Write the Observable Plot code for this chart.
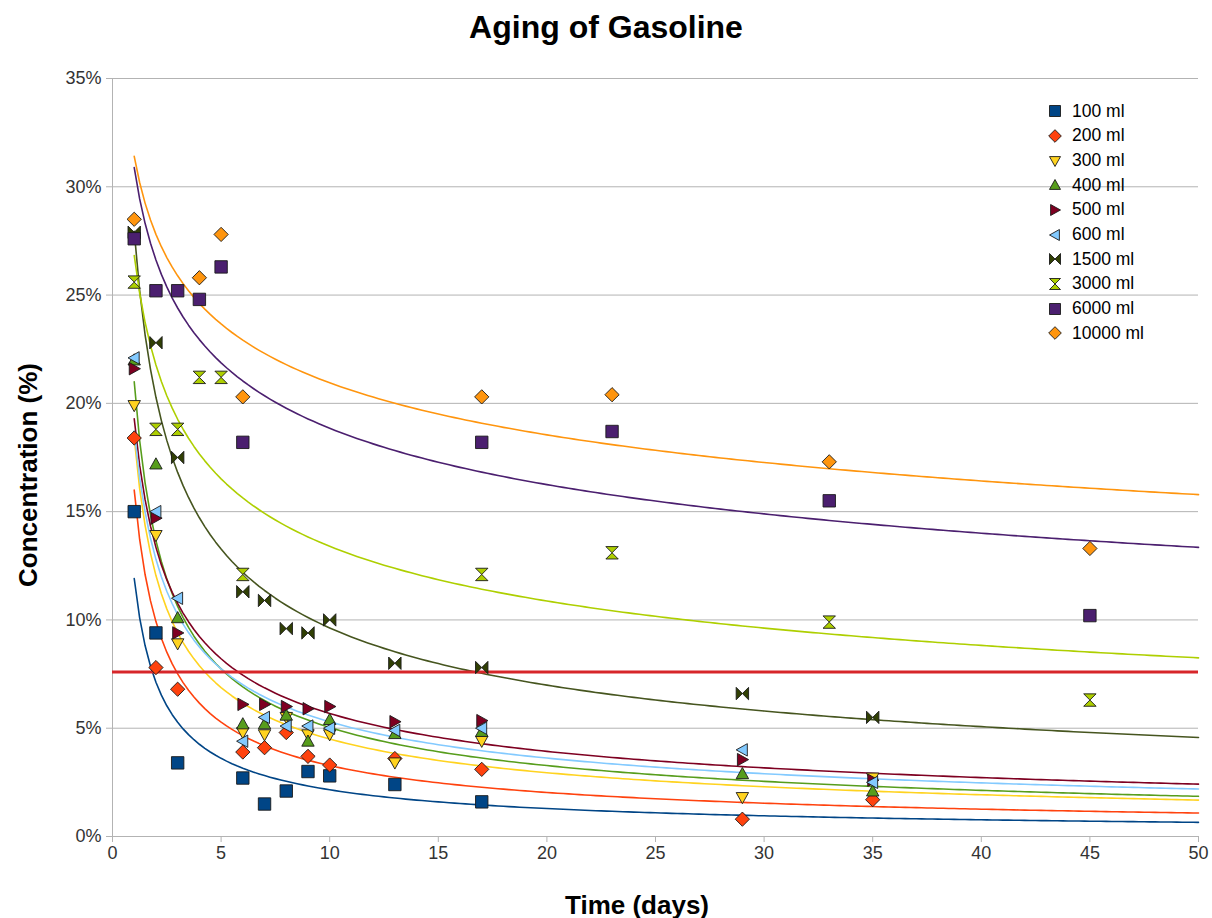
<!DOCTYPE html>
<html>
<head>
<meta charset="utf-8">
<script src="https://cdn.jsdelivr.net/npm/d3@7"></script>
<script src="https://cdn.jsdelivr.net/npm/@observablehq/plot@0.6"></script>
<style>
  html, body { margin: 0; padding: 0; background: #fff; }
  #wrap { position: relative; width: 1212px; height: 918px; background: #fff; font-family: "Liberation Sans", Arial, sans-serif; overflow: hidden; }
  #title { position: absolute; top: 9px; left: 0; width: 1212px; text-align: center; font-weight: bold; font-size: 32px; color: #000; }
  #chart { position: absolute; top: 58px; left: 0; }
  #ylabel { position: absolute; left: 28px; top: 475px; transform: translate(-50%, -50%) rotate(-90deg); white-space: nowrap; font-weight: bold; font-size: 26px; color: #000; }
  #xlabel { position: absolute; left: 637px; top: 905px; transform: translate(-50%, -50%); white-space: nowrap; font-weight: bold; font-size: 26px; color: #000; }
  #legend { position: absolute; left: 1046px; top: 99px; }
  .lg-row { display: flex; align-items: center; height: 24.67px; font-size: 17.5px; color: #000; }
  .lg-row svg { margin-right: 8px; }
  #chart svg text { fill: #333; }
  g[aria-label="y-axis tick"] path, g[aria-label="x-axis tick"] path { stroke: #b3b3b3; }
</style>
</head>
<body>
<div id="wrap">
  <div id="title">Aging of Gasoline</div>
  <div id="chart"></div>
  <div id="ylabel">Concentration (%)</div>
  <div id="xlabel">Time (days)</div>
  <div id="legend"></div>
</div>
<script>
// ---- Data ----
const seriesNames = ["100 ml", "200 ml", "300 ml", "400 ml", "500 ml", "600 ml", "1500 ml", "3000 ml", "6000 ml", "10000 ml"];

const days_100 = [1, 2, 3, 6, 7, 8, 9, 10, 13, 17];
const conc_100 = [15.0, 9.4, 3.4, 2.7, 1.5, 2.1, 3.0, 2.8, 2.4, 1.6];

const days_200 = [1, 2, 3, 6, 7, 8, 9, 10, 13, 17, 29, 35];
const conc_200 = [18.4, 7.8, 6.8, 3.9, 4.1, 4.8, 3.7, 3.3, 3.6, 3.1, 0.8, 1.7];

const days_300 = [1, 2, 3, 6, 7, 8, 9, 10, 13, 17, 29, 35];
const conc_300 = [19.9, 13.9, 8.9, 4.8, 4.7, 5.5, 4.7, 4.7, 3.4, 4.4, 1.8, 2.7];

const days_400 = [1, 2, 3, 6, 7, 8, 9, 10, 13, 17, 29, 35];
const conc_400 = [22.0, 17.2, 10.1, 5.2, 5.2, 5.6, 4.4, 5.4, 4.75, 4.85, 2.9, 2.1];

const days_500 = [1, 2, 3, 6, 7, 8, 9, 10, 13, 17, 29, 35];
const conc_500 = [21.6, 14.7, 9.4, 6.1, 6.1, 6.0, 5.9, 6.0, 5.3, 5.35, 3.55, 2.6];

const days_600 = [1, 2, 3, 6, 7, 8, 9, 10, 13, 17, 29, 35];
const conc_600 = [22.1, 15.0, 11.0, 4.4, 5.5, 5.1, 5.1, 5.0, 4.9, 5.0, 4.0, 2.5];

const days_1500 = [1, 2, 3, 6, 7, 8, 9, 10, 13, 17, 29, 35];
const conc_1500 = [27.9, 22.8, 17.5, 11.3, 10.9, 9.6, 9.4, 10.0, 8.0, 7.8, 6.6, 5.5];

const days_3000 = [1, 2, 3, 4, 5, 6, 17, 23, 33, 45];
const conc_3000 = [25.6, 18.8, 18.8, 21.2, 21.2, 12.1, 12.1, 13.1, 9.9, 6.3];

const days_6000 = [1, 2, 3, 4, 5, 6, 17, 23, 33, 45];
const conc_6000 = [27.6, 25.2, 25.2, 24.8, 26.3, 18.2, 18.2, 18.7, 15.5, 10.2];

const days_10000 = [1, 4, 5, 6, 17, 23, 33, 45];
const conc_10000 = [28.5, 25.8, 27.8, 20.3, 20.3, 20.4, 17.3, 13.3];

const limitLine = [7.6];           // red horizontal reference line (%)
const yTicks = [0, 5, 10, 15, 20, 25, 30, 35];
const xTicks = [0, 5, 10, 15, 20, 25, 30, 35, 40, 45, 50];

// ---- Styles ----
const palette = ["#004586", "#ff420e", "#ffd320", "#579d1c", "#7e0021", "#83caff", "#314004", "#aecf00", "#4b1f6f", "#ff950e"];
const lineColors = ["#004586", "#ff420e", "#ffd320", "#579d1c", "#7e0021", "#83caff", "#46551f", "#aecf00", "#4b1f6f", "#ff950e"];

const rOf = size => Math.sqrt(size / Math.PI);
const sym = {
  square: { draw(c, s) { const r = rOf(s); c.moveTo(-r, -r); c.lineTo(r, -r); c.lineTo(r, r); c.lineTo(-r, r); c.closePath(); } },
  diamond: { draw(c, s) { const r = rOf(s) * 1.15; c.moveTo(0, -r); c.lineTo(r, 0); c.lineTo(0, r); c.lineTo(-r, 0); c.closePath(); } },
  triDown: { draw(c, s) { const r = rOf(s); c.moveTo(-r, -r * 0.8); c.lineTo(r, -r * 0.8); c.lineTo(0, r); c.closePath(); } },
  triUp: { draw(c, s) { const r = rOf(s); c.moveTo(-r, r * 0.8); c.lineTo(r, r * 0.8); c.lineTo(0, -r); c.closePath(); } },
  triRight: { draw(c, s) { const r = rOf(s); c.moveTo(-r * 0.8, -r); c.lineTo(-r * 0.8, r); c.lineTo(r, 0); c.closePath(); } },
  triLeft: { draw(c, s) { const r = rOf(s); c.moveTo(r * 0.8, -r); c.lineTo(r * 0.8, r); c.lineTo(-r, 0); c.closePath(); } },
  bowtie: { draw(c, s) { const r = rOf(s); c.moveTo(-r, -r); c.lineTo(0, 0); c.lineTo(-r, r); c.closePath(); c.moveTo(r, -r); c.lineTo(0, 0); c.lineTo(r, r); c.closePath(); } },
  hourglass: { draw(c, s) { const r = rOf(s); c.moveTo(-r, -r); c.lineTo(r, -r); c.lineTo(0, 0); c.closePath(); c.moveTo(-r, r); c.lineTo(r, r); c.lineTo(0, 0); c.closePath(); } }
};
const symbols = [sym.square, sym.diamond, sym.triDown, sym.triUp, sym.triRight, sym.triLeft, sym.bowtie, sym.hourglass, sym.square, sym.diamond];

const allDays = [days_100, days_200, days_300, days_400, days_500, days_600, days_1500, days_3000, days_6000, days_10000];
const allConc = [conc_100, conc_200, conc_300, conc_400, conc_500, conc_600, conc_1500, conc_3000, conc_6000, conc_10000];

const series = seriesNames.map((name, i) => ({
  name, color: palette[i], lineColor: lineColors[i], symbol: symbols[i],
  points: allDays[i].map((d, j) => ({ day: d, conc: allConc[i][j] }))
}));

// Power-law trend line (least squares in log-log space), like a spreadsheet "power" trendline
function powerFit(points) {
  const lx = points.map(p => Math.log(p.day)), ly = points.map(p => Math.log(p.conc));
  const mx = d3.mean(lx), my = d3.mean(ly);
  let sxy = 0, sxx = 0;
  for (let k = 0; k < lx.length; k++) { sxy += (lx[k] - mx) * (ly[k] - my); sxx += (lx[k] - mx) ** 2; }
  const b = sxy / sxx, a = Math.exp(my - b * mx);
  return d3.range(1, 50.0001, 0.25).map(x => ({ day: x, conc: a * Math.pow(x, b) }));
}

const marks = [
  Plot.gridY(yTicks, { stroke: "#b3b3b3", strokeOpacity: 1, strokeWidth: 1 }),
  Plot.ruleX([0], { stroke: "#b3b3b3" }),
  Plot.ruleY([0], { stroke: "#b3b3b3" }),
  Plot.axisY(yTicks, { tickFormat: d => d + "%", tickSize: 6, tickPadding: 5, fontSize: 18, label: null }),
  Plot.axisX(xTicks, { tickSize: 6, tickPadding: 4, fontSize: 18, label: null })
];
series.forEach(s => {
  marks.push(Plot.line(powerFit(s.points), { x: "day", y: "conc", stroke: s.lineColor, strokeWidth: 1.6 }));
});
marks.push(Plot.ruleY(limitLine, { stroke: "#d7262a", strokeWidth: 3 }));
series.forEach(s => {
  marks.push(Plot.dot(s.points, { x: "day", y: "conc", symbol: s.symbol, fill: s.color, stroke: "#1a1a1a", strokeWidth: 0.9, r: 6.2 }));
});

const chart = Plot.plot({
  width: 1212,
  height: 860,
  marginLeft: 112,
  marginRight: 14,
  marginTop: 20,
  marginBottom: 82,
  style: { fontFamily: "'Liberation Sans', Arial, sans-serif", background: "transparent" },
  x: { domain: [0, 50] },
  y: { domain: [0, 35] },
  marks
});
document.getElementById("chart").appendChild(chart);

// ---- Legend ----
const legend = document.getElementById("legend");
series.forEach(s => {
  const row = document.createElement("div");
  row.className = "lg-row";
  const svg = d3.create("svg").attr("width", 18).attr("height", 18);
  const path = d3.path();
  s.symbol.draw(path, Math.PI * 5.5 * 5.5);
  svg.append("path").attr("transform", "translate(9,9)").attr("d", path.toString())
    .attr("fill", s.color).attr("stroke", "#1a1a1a").attr("stroke-width", 0.9);
  row.appendChild(svg.node());
  const t = document.createElement("span");
  t.textContent = s.name;
  row.appendChild(t);
  legend.appendChild(row);
});
</script>
</body>
</html>
